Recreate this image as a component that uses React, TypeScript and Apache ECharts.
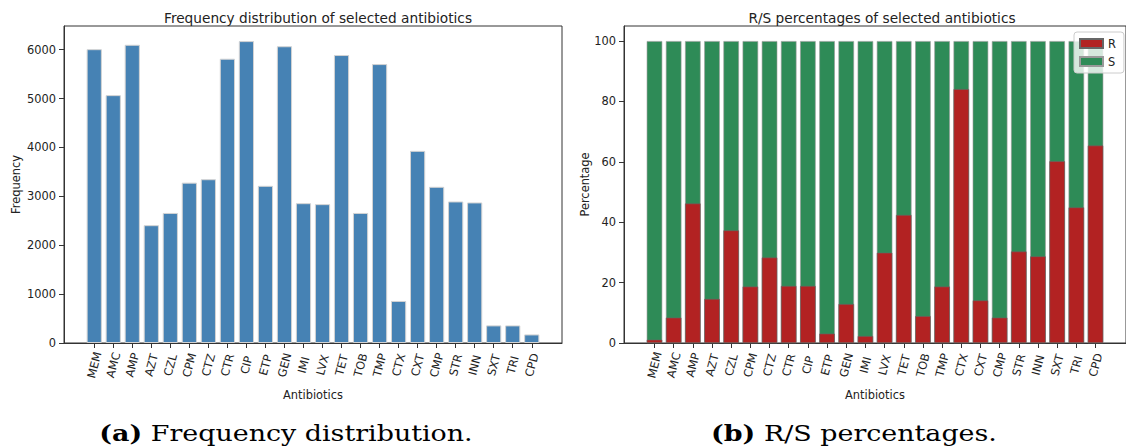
import React, { useEffect, useRef } from "react";
import * as echarts from "echarts";

const categories = ["MEM", "AMC", "AMP", "AZT", "CZL", "CPM", "CTZ", "CTR", "CIP", "ETP", "GEN", "IMI", "LVX", "TET", "TOB", "TMP", "CTX", "CXT", "CMP", "STR", "INN", "SXT", "TRI", "CPD"];
const frequency = [6010, 5070, 6100, 2410, 2660, 3280, 3350, 5815, 6175, 3215, 6070, 2860, 2840, 5890, 2660, 5705, 860, 3930, 3195, 2895, 2875, 360, 360, 175];
const resistantPct = [1.1, 8.4, 46.2, 14.6, 37.3, 18.7, 28.3, 18.9, 18.9, 3.1, 12.9, 2.3, 29.9, 42.4, 8.9, 18.7, 84.1, 14.1, 8.4, 30.3, 28.7, 60.2, 44.9, 65.4];
const susceptiblePct = resistantPct.map((r) => +(100 - r).toFixed(1));
const freqTicks = [0, 1000, 2000, 3000, 4000, 5000, 6000];
const pctTicks = [0, 20, 40, 60, 80, 100];

const FONT = "DejaVu Sans";
const SERIF = "DejaVu Serif";
const TXT = "#222";
const AX = "#333";

export default function App() {
  const ref = useRef<HTMLDivElement>(null);
  useEffect(() => {
    if (!ref.current) return;
    const chart = echarts.init(ref.current, null, { renderer: "svg" });
    const idx = categories.map((_, i) => i);
    const xAxisBase = (gridIndex: number) => ({
      type: "value",
      gridIndex,
      min: -1.59,
      max: 24.59,
      name: "Antibiotics",
      nameLocation: "middle",
      nameGap: 46,
      nameTextStyle: { fontFamily: FONT, fontSize: 11.4, color: TXT },
      axisLine: { show: true, onZero: false, lineStyle: { color: AX, width: 1 } },
      axisTick: { show: true, length: 5, lineStyle: { color: AX }, customValues: idx },
      axisLabel: {
        show: true,
        customValues: idx,
        rotate: 75,
        margin: 22,
        align: "center",
        verticalAlign: "middle",
        fontFamily: FONT,
        fontSize: 11.4,
        color: TXT,
        formatter: (v: number) => categories[Math.round(v)] ?? "",
      },
      splitLine: { show: false },
    });
    const yAxisBase = (gridIndex: number, name: string, max: number, ticks: number[], gap: number) => ({
      type: "value",
      gridIndex,
      min: 0,
      max,
      name,
      nameLocation: "middle",
      nameGap: gap,
      nameTextStyle: { fontFamily: FONT, fontSize: 11.4, color: TXT },
      axisLine: { show: true, onZero: false, lineStyle: { color: AX, width: 1 } },
      axisTick: { show: true, length: 5, lineStyle: { color: AX }, customValues: ticks },
      axisLabel: {
        show: true,
        customValues: ticks,
        margin: 8,
        fontFamily: FONT,
        fontSize: 11.4,
        color: TXT,
        formatter: (v: number) => String(v),
      },
      splitLine: { show: false },
    });
    const caption = (x: number, tag: string, body: string) => ({
      type: "text",
      x,
      y: 433,
      scaleX: 1.17,
      style: {
        text: `{b|${tag}} ${body}`,
        fontFamily: SERIF,
        fontSize: 23,
        fill: "#000",
        align: "center",
        verticalAlign: "middle",
        rich: { b: { fontFamily: SERIF, fontSize: 23, fontWeight: "bold", fill: "#000" } },
      },
    });
    chart.setOption({
      animation: false,
      backgroundColor: "#fff",
      title: [
        { text: "Frequency distribution of selected antibiotics", left: 313, top: 6, textAlign: "center", textStyle: { fontFamily: FONT, fontSize: 13.7, fontWeight: "normal", color: TXT } },
        { text: "R/S percentages of selected antibiotics", left: 877, top: 6, textAlign: "center", textStyle: { fontFamily: FONT, fontSize: 13.7, fontWeight: "normal", color: TXT } },
      ],
      grid: [
        { left: 64, top: 26, width: 498, height: 317, show: true, borderColor: AX, borderWidth: 1, backgroundColor: "transparent" },
        { left: 624, top: 26, width: 507, height: 317, show: true, borderColor: AX, borderWidth: 1, backgroundColor: "transparent" },
      ],
      xAxis: [xAxisBase(0), xAxisBase(1)],
      yAxis: [yAxisBase(0, "Frequency", 6484, freqTicks, 43), yAxisBase(1, "Percentage", 105, pctTicks, 34)],
      legend: {
        orient: "vertical",
        left: 1074,
        top: 32,
        itemWidth: 23,
        itemHeight: 9,
        itemGap: 7,
        padding: [6, 8, 6, 5],
        backgroundColor: "rgba(255,255,255,0.8)",
        borderColor: "#ccc",
        borderWidth: 1,
        borderRadius: 3,
        textStyle: { fontFamily: FONT, fontSize: 11.4, color: TXT },
        data: [
          { name: "R", icon: "rect" },
          { name: "S", icon: "rect" },
        ],
      },
      graphic: [caption(286, "(a)", "Frequency distribution."), caption(854, "(b)", "R/S percentages.")],
      series: [
        {
          type: "bar",
          xAxisIndex: 0,
          yAxisIndex: 0,
          barWidth: 15.2,
          itemStyle: { color: "#4682B4", borderColor: "#d3d3d3", borderWidth: 1 },
          data: frequency.map((v, i) => [i, v]),
        },
        {
          name: "S",
          type: "bar",
          xAxisIndex: 1,
          yAxisIndex: 1,
          barWidth: 15.5,
          barGap: "-100%",
          z: 2,
          itemStyle: { color: "#2E8B57", borderColor: "#999", borderWidth: 0.6 },
          data: susceptiblePct.map((v, i) => [i, +(v + resistantPct[i]).toFixed(1)]),
        },
        {
          name: "R",
          type: "bar",
          xAxisIndex: 1,
          yAxisIndex: 1,
          barWidth: 15.5,
          barGap: "-100%",
          z: 3,
          itemStyle: { color: "#B22222", borderColor: "#666", borderWidth: 0.6 },
          data: resistantPct.map((v, i) => [i, v]),
        },
      ],
    });
    return () => chart.dispose();
  }, []);
  return <div ref={ref} style={{ position: "absolute", left: 0, top: 0, width: 1126, height: 448 }} />;
}
